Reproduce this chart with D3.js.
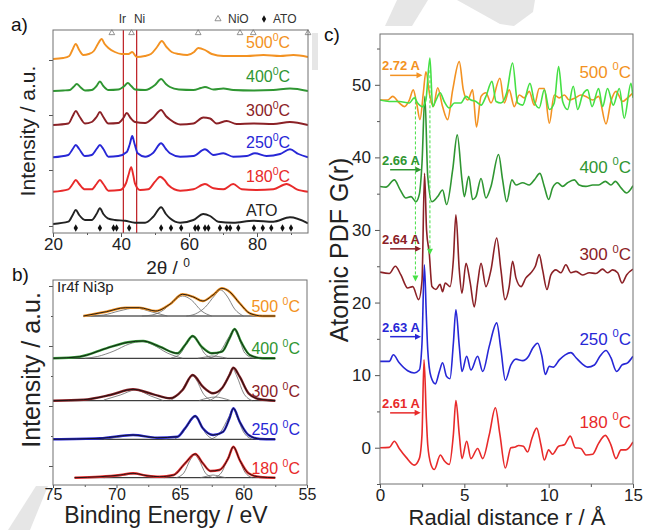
<!DOCTYPE html>
<html>
<head>
<meta charset="utf-8">
<script src="https://cdn.jsdelivr.net/npm/d3@7"></script>
<style>
  body { margin: 0; background: #fff; }
  text { font-family: Arial, "Liberation Sans", Helvetica, sans-serif; }
</style>
</head>
<body>
<svg id="fig" width="645" height="530"></svg>
<script>
// ---------- panel a: XRD (2theta, intensity a.u.) ----------
const xrdNames = ["500", "400", "300", "250", "180", "ATO"];
const xrdBase = [177, 143, 109, 77, 43, 10];
const xrd500 = [[20,174],[23,175],[24.8,177],[25.7,183],[26.7,189],[27.7,183],[28.9,178],[30.5,179],[32.0,182],[33.2,189],[34.3,194],[35.2,189],[36.3,185],[38.2,181],[40.2,179],[42.2,179],[43.3,181],[44.6,176],[47.0,177],[48.8,179],[50.6,186],[52.0,192],[53.4,186],[54.9,181],[57,179],[59.5,178],[61.5,181],[62.7,185],[64.7,183],[66.7,179],[70.1,177],[74,177],[77,177],[81.9,178],[86.8,177],[90.7,178],[95,176]];
const xrd400 = [[20,142],[23,142.5],[25,143],[26,146],[27,149],[28,146],[29.4,142.5],[31.4,143],[32.8,147],[33.8,151.5],[34.8,147],[36.3,143],[39.2,143.5],[41,147],[42,150],[43,147],[44.1,143.5],[47.1,143],[50,148],[51.8,154],[53.2,149],[54.4,146],[57,143.5],[61.3,143],[63.5,145],[64.7,146],[67.2,143.5],[70.1,144.5],[73,143],[78.9,142.5],[84.8,143],[89.7,144.5],[95,142]];
const xrd300 = [[20,108],[24.5,109.5],[25.8,117],[26.7,122],[27.7,117],[29.4,109.5],[31.4,111],[32.8,116],[33.8,121],[34.8,116],[36.3,109.5],[39.2,110],[40.7,115],[41.7,120],[42.8,115],[44.1,111],[47.1,110],[49.5,115.5],[51.8,123],[53.2,117],[54.4,113.5],[57.4,108.5],[61.3,109.5],[64.2,115.5],[66.2,114.5],[68.1,109.5],[71.1,112],[74,109],[78.9,109.5],[84.8,109],[89.7,111],[95,108]];
const xrd250 = [[20,75.7],[24.5,78],[25.8,84],[26.7,88],[27.7,84],[29.4,77],[31.4,78],[32.8,84],[33.8,88],[34.8,84],[36.3,76.3],[39.2,77],[41.7,81],[42.6,89],[43.3,97],[44.0,89],[44.9,79.7],[47.1,76.3],[49.5,80.3],[51.8,89.7],[53.2,84],[54.4,79.7],[57.4,76.3],[61.3,77],[64.7,83.7],[67.2,78],[70.1,79.7],[73,76.3],[77,77],[79.4,79.7],[82.8,77],[86.8,79],[89.7,83.7],[92.2,79],[95,75.7]];
const xrd180 = [[20,41.3],[24.5,43.7],[25.8,49],[26.7,53],[27.7,49],[29.4,43.7],[31.4,43.7],[32.8,49],[33.8,53],[34.8,49],[36.3,42.3],[39.7,43],[41.5,50],[42.2,58],[43.0,65.7],[43.6,58],[44.1,49.7],[45.6,43],[48,43.7],[50,51.3],[51.5,56.3],[52.8,53],[53.9,48],[57.4,42.3],[61.3,43.7],[64.7,49],[67.2,44.7],[70.1,43.7],[73,49],[75.5,43.7],[79.9,43],[84.8,43.7],[88.7,49],[91.7,43.7],[95,41.3]];
const xrdATO = [[20,9],[24.5,11.3],[25.8,18],[26.7,23],[27.7,18],[29.4,13],[31.4,13],[32.8,19],[33.8,24.7],[34.8,19],[36.1,14.7],[38.2,13],[41.2,12.3],[44.1,10.3],[47.1,10.3],[49.5,16.3],[51.8,25.7],[53.2,19],[54.4,14.7],[57.4,10.3],[61.3,13],[64.2,19],[66.2,17],[68.6,11.3],[73,10.3],[78.9,12.3],[84.8,11.3],[89.7,15.7],[95,9.7]];
const xrdRefLines = [40.7, 44.6];       // Ir, Ni
const xrdRefNames = ["Ir", "Ni"];
const nioPeaks = [37.3, 43.1, 62.7, 75.0, 78.9, 95.0];
const atoPeaks = [26.7, 33.8, 37.8, 38.7, 42.4, 51.8, 54.7, 57.7, 61.8, 62.7, 64.7, 65.7, 69.1, 71.1, 72.1, 74.5, 79.1, 81.7, 84.2, 87.5, 90.0];
const xrdXTicks = [20, 40, 60, 80];
const xrdXMinor = [30, 50, 70, 90];
const xrdYTicks = [7, 63, 118, 173];

// ---------- panel b: XPS Ir4f / Ni3p (binding energy eV, intensity) ----------
const xpsNames = ["500", "400", "300", "250", "180"];
const xpsBase = [169, 126.7, 84.3, 45.7, 7.3];
const xps500 = [[72.6,169],[70.8,173.3],[69.3,177.3],[68.2,177.3],[66.9,174],[65.8,180.7],[64.8,190.7],[64.0,188.3],[63.2,184],[62.4,190],[61.7,196.7],[61.1,193.3],[60.3,181.7],[59.5,171.7],[58.5,169],[57.5,169]];
const xps400 = [[75,126.7],[72.9,128.3],[70.8,136.7],[69.1,142.7],[67.9,144],[66.6,138.3],[65.2,131.7],[64.6,140],[64.0,149],[63.3,138.3],[62.5,131.7],[61.7,133.3],[61.1,146.7],[60.7,156],[60.2,143.3],[59.5,130],[58.5,126.7],[57.5,126.7]];
const xps300 = [[75,84.3],[72.6,85.3],[70.5,90],[68.7,95.7],[67.1,90.7],[65.8,86.7],[64.8,95],[64.0,110],[63.2,98.3],[62.4,91.7],[61.7,96.7],[61.1,110],[60.8,117.3],[60.3,108.3],[59.6,91.7],[58.7,85.7],[57.5,84.3]];
const xps250 = [[75,45.7],[71.3,46.7],[68.7,50],[66.8,47.3],[65.2,48.3],[64.6,56.7],[63.8,69],[63.2,56.7],[62.4,50],[61.6,53.3],[61.1,66.7],[60.8,76.7],[60.3,63.3],[59.6,50],[58.7,46],[57.5,45.7]];
const xps180 = [[73.3,7.3],[71.3,8.3],[69.7,10],[68.7,11.7],[67.6,9.3],[66.6,8.3],[65.5,10],[64.6,21.7],[63.8,31],[63.2,21.7],[62.6,14],[61.9,15],[61.2,26.7],[60.8,38.3],[60.3,25],[59.6,11.7],[58.7,8],[57.5,7.3]];
// fitted components
const xpsComp500 = [
  [[64.5,169],[63.8,171],[63.0,178],[62.3,189],[61.8,195],[61.3,189],[60.7,176],[60.0,169]],
  [[68,169],[67.2,170],[66.3,175],[65.5,184],[64.8,189],[64.1,185],[63.3,174],[62.5,169]],
  [[72,169],[71.0,170],[69.8,174],[68.5,177],[67.2,173],[66.0,169]]
];
const xpsComp400 = [
  [[63,126.7],[62.5,127.5],[61.8,134],[61.2,147],[60.75,155],[60.4,148],[59.9,132],[59.2,126.7]],
  [[65.7,127],[65.0,131],[64.4,143],[64.0,148],[63.6,144],[63.1,132],[62.4,126.7]],
  [[72.5,126.7],[71.5,128.5],[70.2,134],[69.0,141],[68.0,143.5],[67.1,140],[66.0,132],[64.8,126.7]],
  [[63.6,126.7],[63.0,128],[62.5,129],[62.0,128.5],[61.3,126.7]]
];
const xpsComp300 = [
  [[62.6,85],[61.9,92],[61.3,106],[60.85,116],[60.5,108],[60.0,92],[59.3,84.3]],
  [[65.7,85],[65.0,92],[64.4,104],[64.0,109],[63.7,105],[63.2,92],[62.5,84.3]],
  [[71,85],[69.7,90],[68.5,95],[67.3,89],[66.3,84.3]],
  [[63.5,84.5],[62.8,87],[62.2,88],[61.7,87],[61.0,84.3]]
];
const xpsComp250 = [
  [[62.5,46],[61.8,53],[61.2,67],[60.8,76],[60.5,68],[60.0,53],[59.3,45.7]],
  [[65.4,46],[64.8,52],[64.2,63],[63.85,68],[63.5,64],[63.0,52],[62.4,45.7]],
  [[71,45.7],[69.8,48],[68.5,50],[67.3,48],[66.0,45.7]]
];
const xpsComp180 = [
  [[62.3,7.3],[61.7,13],[61.2,28],[60.8,37],[60.4,28],[59.9,13],[59.3,7.3]],
  [[65.3,7.3],[64.7,12],[64.2,25],[63.85,30],[63.5,25],[63.0,12],[62.4,7.3]],
  [[71,7.3],[69.8,9],[68.6,11],[67.3,9],[66.2,7.3]],
  [[63.4,7.3],[62.8,9],[62.4,10],[62.0,9],[61.4,7.3]]
];
const xpsXTicks = [75, 70, 65, 60, 55];
const xpsXMinor = [72.5, 67.5, 62.5, 57.5];
const xpsYTicks = [19, 79, 139, 199];
const xpsYMinor = [49, 109, 169];

// ---------- panel c: PDF G(r) ----------
const pdfNames = ["500", "400", "300", "250", "180"];
const pdf500 = [[0,47.9],[0.45,47.9],[0.75,48.4],[1.14,47.5],[1.44,47.0],[1.74,47.9],[1.97,49.3],[2.17,47.5],[2.37,45.2],[2.57,48.9],[2.72,51.8],[2.96,48.4],[3.16,47.0],[3.42,49.6],[3.71,47.0],[4.01,45.2],[4.31,49.3],[4.7,53.2],[4.94,49.3],[5.2,47.9],[5.49,49.3],[5.72,44.2],[5.99,48.4],[6.28,48.9],[6.58,47.5],[7.11,50.9],[7.37,47.5],[7.66,49.3],[7.96,47.0],[8.26,48.6],[8.55,48.2],[8.85,49.1],[9.15,47.2],[9.44,49.5],[9.74,49.5],[10.04,44.7],[10.33,48.6],[10.63,48.2],[10.93,48.6],[11.22,47.9],[11.58,48.2],[11.91,48.6],[12.21,48.4],[12.61,47.9],[12.96,48.4],[13.4,44.6],[13.69,47.7],[13.99,49.1],[14.39,47.7],[14.68,48.2],[15,48.9]];
const pdfLime = [[0,47.9],[0.55,47.7],[1.14,47.7],[1.74,47.5],[2.03,48.2],[2.23,47.5],[2.53,47.0],[2.72,47.9],[2.96,53.7],[3.12,47.0],[3.32,47.9],[3.56,48.9],[3.81,47.7],[4.11,46.8],[4.41,47.5],[4.8,47.5],[5.1,48.4],[5.39,47.9],[5.69,47.7],[5.99,47.2],[6.28,48.4],[6.64,50.5],[6.88,47.7],[7.17,47.5],[7.51,48.9],[7.86,53.0],[8.16,47.5],[8.46,47.2],[8.89,50.2],[9.15,47.7],[9.44,46.8],[9.74,49.3],[10.04,46.6],[10.33,47.5],[10.59,52.5],[10.83,47.7],[11.12,46.6],[11.46,49.8],[11.72,46.6],[12.01,48.6],[12.31,49.3],[12.57,47.0],[12.96,49.5],[13.2,47.0],[13.49,49.5],[13.83,47.2],[14.19,49.5],[14.48,45.4],[14.88,50.2],[15,48.2]];
const pdf400 = [[0,36.0],[0.35,35.9],[0.85,36.9],[1.18,35.6],[1.54,34.4],[1.84,34.6],[2.13,33.9],[2.33,34.9],[2.49,39.2],[2.66,48.4],[2.83,37.4],[3.08,33.9],[3.42,34.6],[3.71,35.5],[3.95,33.5],[4.31,38.3],[4.58,43.1],[4.86,36.9],[5.0,34.6],[5.26,37.4],[5.49,34.2],[5.69,34.6],[5.99,37.1],[6.28,34.4],[6.58,36.0],[7.03,40.4],[7.27,36.9],[7.51,33.9],[7.82,36.9],[8.06,36.2],[8.46,36.5],[8.85,36.2],[9.15,36.9],[9.48,37.8],[9.74,36.0],[10.0,34.2],[10.23,35.8],[10.53,36.5],[10.83,36.0],[11.12,36.5],[11.52,36.9],[11.81,36.2],[12.21,36.0],[12.61,36.2],[12.96,36.2],[13.36,36.7],[13.69,36.2],[13.95,36.7],[14.29,35.8],[14.62,35.1],[15,36.1]];
const pdf300 = [[0,24.2],[0.55,24.0],[0.91,25.0],[1.24,23.8],[1.64,22.0],[1.94,22.2],[2.29,20.4],[2.49,23.0],[2.64,37.8],[2.76,30],[2.92,26.8],[3.08,22.2],[3.32,21.8],[3.56,22.5],[3.71,21.5],[3.87,22.7],[4.15,22.2],[4.35,25.9],[4.5,32.1],[4.7,24.5],[4.86,21.3],[5.1,25.4],[5.35,22.7],[5.59,19.4],[5.79,22.7],[5.99,25.4],[6.28,22.2],[6.58,24.5],[6.92,28.9],[7.17,24.5],[7.41,20.4],[7.66,22.2],[7.86,25.7],[8.06,23.4],[8.36,22.2],[8.65,23.4],[8.95,24.1],[9.21,25.0],[9.44,26.6],[9.64,24.5],[9.9,21.8],[10.13,23.8],[10.43,24.5],[10.73,24.1],[11.02,25.2],[11.32,24.1],[11.62,24.3],[12.01,23.8],[12.41,24.1],[12.8,24.0],[13.2,24.6],[13.49,24.1],[13.79,24.5],[14.09,24.1],[14.35,22.7],[14.62,23.8],[15,24.6]];
const pdf250 = [[0,11.9],[0.55,11.9],[0.79,12.8],[1.14,11.7],[1.64,10.6],[2.03,10.3],[2.33,10.7],[2.49,14.4],[2.63,25.2],[2.75,18],[2.83,13.5],[3.02,9.8],[3.28,8.8],[3.52,10.5],[3.71,11.7],[3.95,9.8],[4.15,9.5],[4.35,14.4],[4.5,19.0],[4.7,14.0],[4.86,10.5],[5.14,12.6],[5.39,10.7],[5.79,12.6],[6.09,10.5],[6.48,14.0],[6.92,17.2],[7.17,13.5],[7.43,9.3],[7.76,11.4],[8.06,12.2],[8.46,12.0],[8.81,12.6],[9.05,13.7],[9.35,14.4],[9.6,12.6],[9.8,10.1],[10.04,11.2],[10.27,11.1],[10.63,12.1],[10.98,12.8],[11.32,13.1],[11.62,12.4],[11.97,11.6],[12.31,11.1],[12.71,11.4],[13.04,12.6],[13.4,13.4],[13.69,12.4],[14.03,10.5],[14.35,11.4],[14.68,11.7],[15,12.6]];
const pdf180 = [[0,0],[0.55,0.05],[0.85,0.9],[1.14,-0.1],[1.54,-1.3],[2.03,-2.4],[2.33,-1.5],[2.49,1.8],[2.61,12.1],[2.75,4],[2.83,0.4],[3.02,-2.3],[3.22,-3.0],[3.58,-1.0],[3.81,-1.8],[4.11,-2.3],[4.35,1.8],[4.5,6.5],[4.7,1.8],[4.86,-1.5],[5.14,0.9],[5.39,-1.5],[5.79,-0.1],[6.09,-1.5],[6.48,1.8],[6.84,5.5],[7.11,1.8],[7.43,-2.8],[7.76,0],[8.02,0.1],[8.22,0.3],[8.5,0.2],[8.75,-0.6],[9.01,1.3],[9.29,2.7],[9.54,0.4],[9.74,-1.7],[10.0,-0.3],[10.23,-0.9],[10.59,0.2],[10.93,0.4],[11.28,1.6],[11.58,0],[11.91,-0.1],[12.21,-1.0],[12.61,-0.9],[12.96,0.6],[13.36,1.7],[13.69,0.4],[13.99,-1.5],[14.29,-0.3],[14.58,-0.3],[15,0.8]];
const pdfLabelAt = [51, 37.9, 25.8, 14.2, 2.75];
const pdfPeakText = ["2.72 A", "2.66 A", "2.64 A", "2.63 A", "2.61 A"];
const pdfPeakR = [2.72, 2.66, 2.64, 2.63, 2.61];
const pdfArrowG = [51.3, 38.3, 27.4, 15.3, 4.8];
const pdfDashR = [2.1, 2.96];
const pdfDashTop = [48.4, 52];
const pdfDashEnd = [22.9, 26.6];
const pdfXTicks = [0, 5, 10, 15];
const pdfXMinor = [2.5, 7.5, 12.5];
const pdfYTicks = [0, 10, 20, 30, 40, 50];
const pdfYMinor = [-5, 5, 15, 25, 35, 45, 55];

// colours
const cOrange = "#f39222", cGreen = "#2f9632", cDark = "#8b2126", cBlue = "#2727d6",
      cRed = "#e82a2a", cBlack = "#222", cLime = "#45e045", cIrNi = "#c0282d";
const tempColors = [cOrange, cGreen, cDark, cBlue, cRed, cBlack];

const svg = d3.select("#fig");
const line = (x, y) => d3.line().x(d => x(d[0])).y(d => y(d[1])).curve(d3.curveMonotoneX);

// faint watermark shapes from the source page
svg.append("g").attr("fill", "#e6e6e6")
  .selectAll("path")
  .data(["M397,0 L428,0 L412,26 L385,26 Z", "M457,0 L535,0 L533,12 L514,26 L500,24 Z",
         "M8,530 L36,486 L48,486 L30,530 Z", "M312,33 L318,33 L318,70 L312,70 Z"])
  .join("path").attr("d", d => d);

function tempLabel(g, x, y, num, color, size, gap, anchor) {
  const t = g.append("text").attr("x", x).attr("y", y).attr("fill", color)
    .attr("font-size", size).attr("text-anchor", anchor);
  t.append("tspan").text(num + gap);
  t.append("tspan").attr("dy", -size * 0.45).attr("font-size", size * 0.66).text("0");
  t.append("tspan").attr("dy", size * 0.45).text("C");
}

function styleAxis(sel, fs) {
  sel.select(".domain").remove();
  sel.selectAll("line").attr("stroke", "#555");
  sel.selectAll("text").attr("font-size", fs).attr("fill", "#222")
    .attr("font-family", "Arial, 'Liberation Sans', sans-serif");
}

function frame(g, x0, y0, x1, y1) {
  g.append("rect").attr("x", x0).attr("y", y0).attr("width", x1 - x0).attr("height", y1 - y0)
    .attr("fill", "none").attr("stroke", "#707070").attr("stroke-width", 1);
}

// ================= panel a =================
const xA = d3.scaleLinear().domain([20, 95]).range([53, 308]);
const yA = d3.scaleLinear().domain([0, 203]).range([233, 30]);
const gA = svg.append("g");
svg.append("clipPath").attr("id", "clipA").append("rect")
  .attr("x", 53).attr("y", 30).attr("width", 255).attr("height", 203);

gA.append("g").attr("transform", "translate(0,233)")
  .call(d3.axisBottom(xA).tickValues(xrdXTicks).tickSize(4).tickPadding(1).tickFormat(d3.format("d")))
  .call(s => styleAxis(s, 17));
gA.append("g").attr("transform", "translate(0,233)")
  .call(d3.axisBottom(xA).tickValues(xrdXMinor).tickSize(2).tickFormat(""))
  .call(s => styleAxis(s, 17));
gA.append("g").attr("transform", "translate(53,0)")
  .call(d3.axisLeft(yA).tickValues(xrdYTicks).tickSize(4).tickFormat(""))
  .call(s => styleAxis(s, 17));

const xrdSeries = [xrd500, xrd400, xrd300, xrd250, xrd180, xrdATO];
const pA = gA.append("g").attr("clip-path", "url(#clipA)");
xrdRefLines.forEach(v => {
  pA.append("line").attr("x1", xA(v)).attr("x2", xA(v)).attr("y1", yA(203)).attr("y2", yA(0))
    .attr("stroke", cIrNi).attr("stroke-width", 1.3);
});
xrdSeries.forEach((s, i) => {
  pA.append("path").datum(s).attr("d", line(xA, yA)).attr("fill", "none")
    .attr("stroke", tempColors[i]).attr("stroke-width", 1.9).attr("stroke-linejoin", "round");
});
// reflection markers
pA.selectAll(".ato").data(atoPeaks).join("path").attr("class", "ato")
  .attr("transform", d => `translate(${xA(d)},${yA(5)})`)
  .attr("d", d3.symbol(d3.symbolDiamond, 16)).attr("fill", "#111");
gA.selectAll(".nio").data(nioPeaks).join("path").attr("class", "nio")
  .attr("transform", d => `translate(${xA(d)},${yA(200)})`)
  .attr("d", d3.symbol(d3.symbolTriangle, 14)).attr("fill", "none").attr("stroke", "#777").attr("stroke-width", 0.8);
frame(gA, 53, 30, 308, 233);

xrdNames.forEach((n, i) => {
  if (n === "ATO") {
    gA.append("text").attr("x", 246).attr("y", yA(xrdBase[i]) - 7).attr("font-size", 16)
      .attr("fill", cBlack).text("ATO");
  } else {
    tempLabel(gA, 246, yA(xrdBase[i]) - 8, n, tempColors[i], 16, "", "start");
  }
});
xrdRefNames.forEach((n, i) => {
  gA.append("text").attr("x", xA(xrdRefLines[i]) + (i ? 3 : -1)).attr("y", 23).attr("font-size", 12)
    .attr("text-anchor", "middle").attr("fill", "#333").text(n);
});
gA.append("path").attr("transform", "translate(218,19)").attr("d", d3.symbol(d3.symbolTriangle, 16))
  .attr("fill", "none").attr("stroke", "#777").attr("stroke-width", 0.8);
gA.append("text").attr("x", 228).attr("y", 23).attr("font-size", 12).attr("fill", "#333").text("NiO");
gA.append("path").attr("transform", "translate(264,19)").attr("d", d3.symbol(d3.symbolDiamond, 16)).attr("fill", "#111");
gA.append("text").attr("x", 273).attr("y", 23).attr("font-size", 12).attr("fill", "#333").text("ATO");
gA.append("text").attr("transform", "translate(35,131) rotate(-90)").attr("text-anchor", "middle")
  .attr("font-size", 21).attr("fill", "#222").text("Intensity / a.u.");
const tA = gA.append("text").attr("x", 168).attr("y", 274).attr("text-anchor", "middle")
  .attr("font-size", 19).attr("fill", "#222");
tA.append("tspan").text("2\u03b8 / ");
tA.append("tspan").attr("dy", -7).attr("font-size", 12).text("0");
gA.append("text").attr("x", 11).attr("y", 31).attr("font-size", 19).attr("fill", "#111").text("a)");

// ================= panel b =================
const xB = d3.scaleLinear().domain([75, 55]).range([53, 307]);
const yB = d3.scaleLinear().domain([0, 205]).range([485, 280]);
const gB = svg.append("g");
gB.append("g").attr("transform", "translate(0,485)")
  .call(d3.axisBottom(xB).tickValues(xpsXTicks).tickSize(3).tickPadding(1))
  .call(s => styleAxis(s, 16));
gB.append("g").attr("transform", "translate(0,485)")
  .call(d3.axisBottom(xB).tickValues(xpsXMinor).tickSize(2).tickFormat(""))
  .call(s => styleAxis(s, 16));
gB.append("g").attr("transform", "translate(53,0)")
  .call(d3.axisLeft(yB).tickValues(xpsYTicks).tickSize(4).tickFormat(""))
  .call(s => styleAxis(s, 16));
gB.append("g").attr("transform", "translate(53,0)")
  .call(d3.axisLeft(yB).tickValues(xpsYMinor).tickSize(2).tickFormat(""))
  .call(s => styleAxis(s, 16));

const xpsSeries = [xps500, xps400, xps300, xps250, xps180];
const xpsComps = [xpsComp500, xpsComp400, xpsComp300, xpsComp250, xpsComp180];
xpsSeries.forEach((s, i) => {
  const e0 = s[0][0], e1 = s[s.length - 1][0];
  gB.append("line").attr("x1", xB(e0)).attr("x2", xB(e1))
    .attr("y1", yB(xpsBase[i])).attr("y2", yB(xpsBase[i])).attr("stroke", "#111").attr("stroke-width", 1);
  xpsComps[i].forEach(c => {
    gB.append("path").datum(c).attr("d", line(xB, yB)).attr("fill", "none")
      .attr("stroke", "#666").attr("stroke-width", 0.8);
  });
  gB.append("path").datum(s).attr("d", line(xB, yB)).attr("fill", "none")
    .attr("stroke", tempColors[i]).attr("stroke-width", 2.4).attr("stroke-linejoin", "round");
  gB.append("path").datum(s).attr("d", line(xB, yB)).attr("fill", "none")
    .attr("stroke", "#111").attr("stroke-width", 0.9);
  tempLabel(gB, 300, yB(xpsBase[i]) - 4, xpsNames[i], tempColors[i], 16, " ", "end");
});
frame(gB, 53, 280, 307, 485);
gB.append("text").attr("x", 57).attr("y", 292).attr("font-size", 15).attr("fill", "#222").text("Ir4f Ni3p");
gB.append("text").attr("transform", "translate(40,370) rotate(-90)").attr("text-anchor", "middle")
  .attr("font-size", 25).attr("fill", "#222").text("Intensity / a.u.");
gB.append("text").attr("x", 166).attr("y", 523).attr("text-anchor", "middle")
  .attr("font-size", 23).attr("fill", "#222").text("Binding Energy / eV");
gB.append("text").attr("x", 12).attr("y", 281).attr("font-size", 19).attr("fill", "#111").text("b)");

// ================= panel c =================
const xC = d3.scaleLinear().domain([0, 15]).range([380, 633]);
const yC = d3.scaleLinear().domain([-5, 57]).range([484, 34]);
const gC = svg.append("g");
svg.append("clipPath").attr("id", "clipC").append("rect")
  .attr("x", 380).attr("y", 34).attr("width", 253).attr("height", 450);
gC.append("g").attr("transform", "translate(0,484)")
  .call(d3.axisBottom(xC).tickValues(pdfXTicks).tickSize(4).tickPadding(1))
  .call(s => styleAxis(s, 17));
gC.append("g").attr("transform", "translate(0,484)")
  .call(d3.axisBottom(xC).tickValues(pdfXMinor).tickSize(3).tickFormat(""))
  .call(s => styleAxis(s, 17));
gC.append("g").attr("transform", "translate(380,0)")
  .call(d3.axisLeft(yC).tickValues(pdfYTicks).tickSize(5).tickPadding(4))
  .call(s => styleAxis(s, 17));
gC.append("g").attr("transform", "translate(380,0)")
  .call(d3.axisLeft(yC).tickValues(pdfYMinor).tickSize(3).tickFormat(""))
  .call(s => styleAxis(s, 17));

const pC = gC.append("g").attr("clip-path", "url(#clipC)");
const pdfSeries = [pdf180, pdf250, pdf300, pdf400, pdf500, pdfLime];
const pdfColors = [cRed, cBlue, cDark, cGreen, cOrange, cLime];
pdfSeries.forEach((s, i) => {
  pC.append("path").datum(s).attr("d", line(xC, yC)).attr("fill", "none")
    .attr("stroke", pdfColors[i]).attr("stroke-width", 1.6).attr("stroke-linejoin", "round");
});
// dashed guide arrows
pdfDashR.forEach((r, i) => {
  const x = xC(r), y0 = yC(pdfDashTop[i]), y1 = yC(pdfDashEnd[i]);
  pC.append("line").attr("x1", x).attr("x2", x).attr("y1", y0).attr("y2", y1 - 5)
    .attr("stroke", cLime).attr("stroke-width", 1).attr("stroke-dasharray", "3,2");
  pC.append("path").attr("d", `M${x - 3},${y1 - 6} L${x + 3},${y1 - 6} L${x},${y1} Z`).attr("fill", cLime);
});
// peak position annotations
const peakColors = [cOrange, cGreen, cDark, cBlue, cRed];
pdfPeakText.forEach((t, i) => {
  const y = yC(pdfArrowG[i]), xs = xC(0.6), xe = xC(pdfPeakR[i] - 0.2);
  gC.append("line").attr("x1", xs).attr("x2", xe - 5).attr("y1", y).attr("y2", y)
    .attr("stroke", peakColors[i]).attr("stroke-width", 1.5);
  gC.append("path").attr("d", `M${xe - 6},${y - 3} L${xe},${y} L${xe - 6},${y + 3} Z`).attr("fill", peakColors[i]);
  gC.append("text").attr("x", xC(0.12)).attr("y", y - 5).attr("font-size", 13).attr("font-weight", "bold")
    .attr("fill", peakColors[i]).text(t);
});
pdfNames.forEach((n, i) => {
  tempLabel(gC, 631, yC(pdfLabelAt[i]), n, peakColors[i], 17, " ", "end");
});
frame(gC, 380, 34, 633, 484);
gC.append("text").attr("transform", "translate(348,250) rotate(-90)").attr("text-anchor", "middle")
  .attr("font-size", 25).attr("fill", "#222").text("Atomic PDF G(r)");
gC.append("text").attr("x", 507).attr("y", 525).attr("text-anchor", "middle")
  .attr("font-size", 22).attr("fill", "#222").text("Radial distance r / \u00c5");
gC.append("text").attr("x", 324).attr("y", 41).attr("font-size", 19).attr("fill", "#111").text("c)");
</script>
</body>
</html>
